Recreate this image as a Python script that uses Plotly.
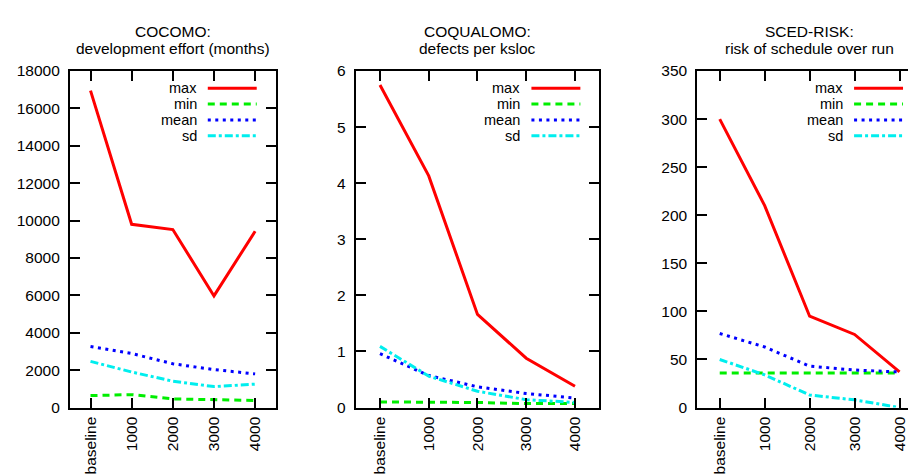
import plotly.graph_objects as go

W, H = 916, 476

categories = ["baseline", "1000", "2000", "3000", "4000"]

# COCOMO: development effort (months)
cocomo_max = [16950, 9800, 9520, 5970, 9430]
cocomo_min = [640, 690, 460, 430, 380]
cocomo_mean = [3260, 2890, 2340, 2030, 1800]
cocomo_sd = [2470, 1900, 1410, 1120, 1250]

# COQUALOMO: defects per ksloc
coq_max = [5.75, 4.13, 1.66, 0.88, 0.38]
coq_min = [0.10, 0.10, 0.09, 0.07, 0.07]
coq_mean = [0.96, 0.57, 0.37, 0.25, 0.17]
coq_sd = [1.09, 0.56, 0.29, 0.14, 0.09]

# SCED-RISK: risk of schedule over run
sced_max = [300, 210, 95, 76, 37]
sced_min = [36, 36, 36, 36, 36]
sced_mean = [77, 63, 43, 39, 37]
sced_sd = [50, 34, 13, 8, 0]

titles = [
    ("COCOMO:", "development effort (months)"),
    ("COQUALOMO:", "defects per ksloc"),
    ("SCED-RISK:", "risk of schedule over run"),
]
y_ranges = [(0, 18000, 2000), (0, 6, 1), (0, 350, 50)]
series_names = ["max", "min", "mean", "sd"]
series_colors = ["#ff0000", "#00ee00", "#0000ff", "#00eeee"]
series_dash = ["solid", "7px,5px", "3px,4.5px", "8px,3px,3px,3px"]

panels_data = [
    [cocomo_max, cocomo_min, cocomo_mean, cocomo_sd],
    [coq_max, coq_min, coq_mean, coq_sd],
    [sced_max, sced_min, sced_mean, sced_sd],
]

# pixel frames of each plot area
frames_x = [(62, 268), (348, 592), (690, 915)]
top_px, bot_px = 56, 405

def px(x):
    return x / W

def py(y):
    return 1 - y / H

FONT = "Liberation Sans, Arial, sans-serif"
TICK_SIZE = 15.5
fig = go.Figure()
layout = dict(
    width=W, height=H, autosize=False,
    margin=dict(l=0, r=0, t=0, b=0),
    paper_bgcolor="white", plot_bgcolor="white",
    showlegend=False,
    font=dict(family=FONT, size=15, color="#000000"),
)
annotations = []
shapes = []

for i in range(3):
    sfx = "" if i == 0 else str(i + 1)
    xa, ya = "x" + sfx, "y" + sfx
    for j, vals in enumerate(panels_data[i]):
        fig.add_trace(go.Scatter(
            x=categories, y=vals, mode="lines", name=series_names[j],
            line=dict(color=series_colors[j], width=3, dash=series_dash[j]),
            xaxis=xa, yaxis=ya,
        ))
    x0, x1 = frames_x[i]
    common = dict(
        showline=True, linewidth=2, linecolor="black", mirror="ticks",
        ticks="inside", ticklen=10, tickwidth=2, tickcolor="black",
        showgrid=False, zeroline=False,
        tickfont=dict(family=FONT, size=TICK_SIZE, color="black"),
    )
    layout["xaxis" + sfx] = dict(
        domain=[px(x0), px(x1)], anchor=ya, type="category",
        range=[-0.5, 4.5], tickangle=-90, ticklabelstandoff=1, **common,
    )
    lo, hi, dt = y_ranges[i]
    layout["yaxis" + sfx] = dict(
        domain=[py(bot_px), py(top_px)], anchor=xa,
        range=[lo, hi], dtick=dt, tick0=0, tickformat="d",
        ticklabelstandoff=5, **common,
    )
    cx = (x0 + x1) / 2
    annotations.append(dict(x=px(cx), y=py(15.2), xref="paper", yref="paper",
                            text=titles[i][0], showarrow=False,
                            xanchor="center", yanchor="middle",
                            font=dict(size=15.5)))
    annotations.append(dict(x=px(cx), y=py(33), xref="paper", yref="paper",
                            text=titles[i][1], showarrow=False,
                            xanchor="center", yanchor="middle",
                            font=dict(size=15.5)))
    # legend
    for j, name in enumerate(series_names):
        ry = top_px + 17.9 + 16.4 * j
        annotations.append(dict(x=px(x1 - 77), y=py(ry), xref="paper", yref="paper",
                                text=name, showarrow=False,
                                xanchor="right", yanchor="middle",
                                font=dict(size=14.5)))
        shapes.append(dict(type="line", xref="paper", yref="paper",
                           x0=px(x1 - 68), x1=px(x1 - 19), y0=py(ry), y1=py(ry),
                           line=dict(color=series_colors[j], width=3,
                                     dash=series_dash[j])))

layout["annotations"] = annotations
layout["shapes"] = shapes
fig.update_layout(**layout)
fig.write_html("out.html")
